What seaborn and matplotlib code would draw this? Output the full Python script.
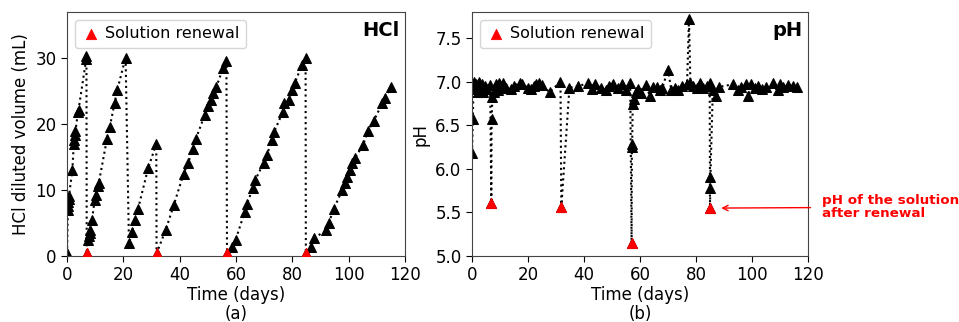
import matplotlib
matplotlib.use("Agg")
import matplotlib.pyplot as plt
import seaborn as sns
import pandas as pd

# ---------------- data ----------------
hcl_days = [0, 0.3, 0.4, 0.5, 0.6, 0.7, 1.9, 2.4, 2.6, 2.8, 3.0, 3.9, 4.1, 6.8, 6.9,
            7.0, 7.5, 7.8, 8.0, 8.3, 8.9, 9.8, 10.2, 11.0, 11.3, 14.2, 15.2, 16.9, 17.8, 20.8,
            22.0, 23.2, 24.0, 25.2, 28.8, 31.7,
            31.8, 35.0, 37.9, 41.4, 43.0, 44.7, 45.7, 48.9, 50.0, 51.3, 52.0, 53.0, 55.4, 56.6,
            56.8, 58.7, 59.9, 63.1, 63.9, 66.0, 66.8, 69.8, 70.9, 72.9, 73.5, 76.7, 77.0, 78.8,
            80.0, 80.8, 83.5, 84.7,
            84.8, 86.7, 87.6, 92.1, 92.9, 94.7, 97.7, 98.6, 99.4, 100.4, 101.3, 102.1, 105.1,
            106.8, 108.9, 112.0, 112.8, 115.2]
hcl_vol = [0.4, 7.0, 7.6, 8.2, 8.7, 9.1, 13.0, 17.0, 17.6, 18.3, 18.9, 21.9, 22.2, 29.8, 30.3,
           0.4, 2.4, 3.0, 3.5, 4.0, 5.5, 8.5, 9.2, 10.6, 11.1, 17.8, 19.6, 23.2, 25.1, 30.1,
           1.9, 3.7, 5.5, 7.1, 13.3, 17.0,
           0.4, 3.9, 7.7, 12.5, 14.1, 16.3, 17.7, 21.4, 22.7, 23.7, 24.7, 25.6, 28.5, 29.5,
           0.4, 1.4, 2.5, 6.7, 7.9, 10.3, 11.5, 14.1, 15.3, 17.6, 18.8, 21.9, 23.2, 23.7,
           25.2, 26.2, 29.0, 30.0,
           0.4, 1.4, 2.7, 3.9, 5.0, 7.1, 10.0, 11.0, 12.0, 13.0, 14.1, 14.8, 16.8,
           18.9, 20.5, 23.2, 23.9, 25.6]
hcl_renew_days = [7.0, 31.8, 56.8, 84.8]
hcl_renew_vol = [0.4, 0.4, 0.4, 0.4]

ph_days = [0.0, 0.3, 0.5, 0.8, 1.2, 1.6, 2.0, 2.5, 3.0, 3.5, 4.0, 4.5, 5.5, 6.5,
           6.9, 7.0, 7.3, 7.8, 8.5, 9.2, 9.8, 10.5, 11.2, 12.0, 14.0, 15.0, 17.0, 18.0,
           20.0, 21.0, 22.0, 23.0, 24.0, 25.0, 27.7, 31.6,
           31.9, 34.8, 37.8, 41.5, 43.0, 44.0, 46.0, 48.0, 49.0, 50.5, 52.0, 53.5, 55.0, 56.5,
           57.0, 57.1, 57.2, 57.4, 57.8, 58.5, 59.3, 60.5, 62.0, 63.5, 64.5, 66.0, 67.0, 68.0,
           70.0, 71.2, 72.5, 73.6, 75.0, 76.8, 77.5, 78.0, 79.0, 80.2, 81.3, 82.5, 84.0, 84.9,
           85.0, 85.1, 85.15, 86.0, 87.3, 88.2, 93.2, 95.0, 96.0, 98.0, 98.6, 99.8, 101.0,
           102.2, 103.5, 105.1, 107.5, 109.3, 109.9, 111.0, 112.9, 114.5, 115.9]
ph_vals = [6.18, 6.57, 6.95, 7.0, 6.92, 6.97, 6.88, 7.0, 6.93, 6.97, 6.88, 6.95, 6.92, 6.96,
           5.61, 6.57, 6.83, 6.88, 6.97, 6.90, 6.99, 6.95, 6.98, 6.93, 6.92, 6.95, 6.99, 6.97,
           6.93, 6.92, 6.95, 6.97, 6.99, 6.96, 6.88, 7.0,
           5.56, 6.93, 6.95, 6.98, 6.92, 6.97, 6.93, 6.90, 6.95, 6.97, 6.93, 6.97, 6.91, 6.98,
           5.15, 6.25, 6.29, 6.75, 6.80, 6.88, 6.92, 6.87, 6.96, 6.84, 6.94, 6.94, 6.90, 6.93,
           7.14, 6.90, 6.93, 6.90, 6.95, 6.97, 7.72, 6.98, 6.95, 6.93, 6.98, 6.93, 6.95, 6.98,
           5.55, 5.78, 5.91, 6.90, 6.84, 6.94, 6.97, 6.90, 6.94, 6.97, 6.84, 6.97, 6.93,
           6.95, 6.92, 6.94, 6.98, 6.90, 6.97, 6.94, 6.96, 6.95, 6.94]
ph_renew_days = [6.9, 31.9, 57.0, 85.0]
ph_renew_vals = [5.61, 5.56, 5.15, 5.55]

x_ticks = [0, 20, 40, 60, 80, 100, 120]
hcl_yticks = [0, 10, 20, 30]
ph_yticks = [5.0, 5.5, 6.0, 6.5, 7.0, 7.5]

# ---------------- plotting ----------------
sns.set_style("ticks")
plt.rcParams['font.family'] = ['DejaVu Sans']
for k in ["text.color", "axes.labelcolor", "xtick.color", "ytick.color"]:
    plt.rcParams[k] = "black"

fig = plt.figure(figsize=(9.59, 3.22), dpi=100)
ax1 = fig.add_axes([67/959, 1-256/322, 338/959, 244/322])
ax2 = fig.add_axes([472/959, 1-256/322, 336/959, 244/322])

hcl_df = pd.DataFrame({"day": hcl_days, "val": hcl_vol})
hcl_red = pd.DataFrame({"day": hcl_renew_days, "val": hcl_renew_vol})
ph_df = pd.DataFrame({"day": ph_days, "val": ph_vals})
ph_red = pd.DataFrame({"day": ph_renew_days, "val": ph_renew_vals})

for ax, df, red in [(ax1, hcl_df, hcl_red), (ax2, ph_df, ph_red)]:
    sns.lineplot(data=df, x="day", y="val", sort=False, estimator=None, ax=ax,
                 color="black", linestyle=":", linewidth=1.5, marker="^",
                 markersize=6.5, markeredgecolor="black", zorder=2)
    sns.scatterplot(data=red, x="day", y="val", ax=ax, marker="^", color="red",
                    edgecolor="red", s=55, zorder=3, label="Solution renewal")
    ax.set_xlim(0, 120)
    ax.set_xticks(x_ticks)
    ax.tick_params(labelsize=12, length=4, color="black")
    ax.legend(loc="upper left", fontsize=11.5, handletextpad=0.3, borderpad=0.4,
              handlelength=1.2)
    for s in ax.spines.values():
        s.set_color("#444444")

ax1.set_ylim(0, 37)
ax1.set_yticks(hcl_yticks)
ax1.set_xlabel("Time (days)\n(a)", fontsize=12, linespacing=1.05, labelpad=1)
ax1.set_ylabel("HCl diluted volume (mL)", fontsize=12, labelpad=4)
ax1.text(0.985, 0.965, "HCl", transform=ax1.transAxes, ha="right", va="top",
         fontsize=14, fontweight="bold")

ax2.set_ylim(5.0, 7.8)
ax2.set_yticks(ph_yticks)
ax2.set_xlabel("Time (days)\n(b)", fontsize=12, linespacing=1.05, labelpad=1)
ax2.set_ylabel("pH", fontsize=12, labelpad=4)
ax2.text(0.985, 0.965, "pH", transform=ax2.transAxes, ha="right", va="top",
         fontsize=14, fontweight="bold")

ax2.annotate("pH of the solution\nafter renewal", xy=(88.0, 5.55), xycoords="data",
             xytext=(1.042, 5.56), textcoords=("axes fraction", "data"),
             ha="left", va="center", color="red", fontsize=9.7, fontweight="bold",
             annotation_clip=False, linespacing=1.0,
             arrowprops=dict(arrowstyle="->", color="red", lw=1, shrinkA=6, shrinkB=2))

fig.savefig("out.png", dpi=100)
